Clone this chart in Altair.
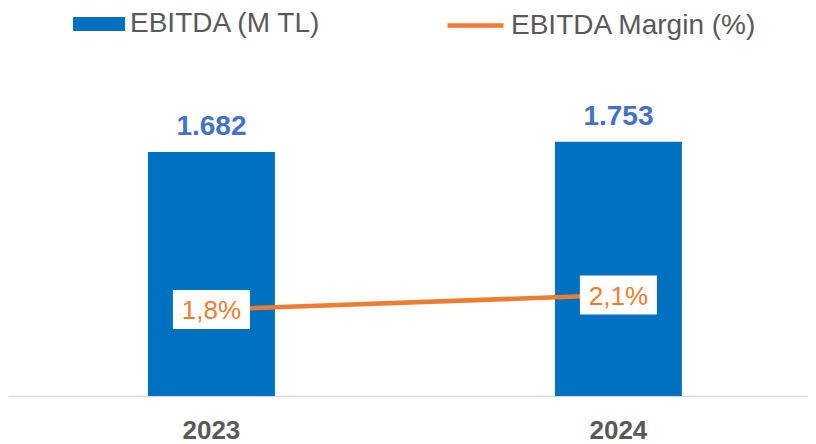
import altair as alt
import pandas as pd

years = ["2023", "2024"]
ebitda = [1682, 1753]
margin = [1.8, 2.1]
ebitda_labels = ["1.682", "1.753"]
margin_labels = ["1,8%", "2,1%"]
series_bar = "EBITDA (M TL)"
series_line = "EBITDA Margin (%)"

FONT = "Liberation Sans"
BLUE = "#0070C0"
BLUE_TXT = "#4472C4"
ORANGE = "#ED7D31"
GRAY = "#595959"

df = pd.DataFrame({
    "year": years,
    "ebitda": ebitda,
    "margin": margin,
    "elab": ebitda_labels,
    "mlab": margin_labels,
    "s1": [series_bar] * len(years),
    "s2": [series_line] * len(years),
})

x = alt.X(
    "year:N",
    scale=alt.Scale(paddingInner=0.688, paddingOuter=0.3268, align=0.526),
    axis=alt.Axis(
        title=None, labelAngle=0, ticks=False, tickSize=0, grid=False,
        domainColor="#D9D9D9", domainWidth=1.5,
        labelFont=FONT, labelFontSize=26, labelFontWeight="bold",
        labelColor=GRAY, labelBaseline="alphabetic", labelPadding=42,
    ),
)
ybar = alt.Y("ebitda:Q", scale=alt.Scale(domain=[0, 2675]), axis=None)
yline = alt.Y("margin:Q", scale=alt.Scale(domain=[0, 8.07]), axis=None)

base = alt.Chart(df)

bars = base.mark_bar().encode(
    x=x,
    y=ybar,
    color=alt.Color(
        "s1:N",
        scale=alt.Scale(domain=[series_bar], range=[BLUE]),
        legend=alt.Legend(
            title=None, orient="none", legendX=65, legendY=-10, padding=0,
            symbolType="M-1,-0.27L1,-0.27L1,0.27L-1,0.27Z", symbolSize=2704,
            symbolStrokeWidth=0, symbolOpacity=1, labelLimit=500,
            labelFont=FONT, labelFontSize=28, labelColor=GRAY, labelOffset=5,
        ),
    ),
)

bar_text = base.mark_text(
    font=FONT, fontSize=28, fontWeight="bold", color=BLUE_TXT,
    baseline="alphabetic", dy=-17,
).encode(x=x, y=ybar, text="elab:N")

line = base.mark_line(strokeWidth=4.5, strokeCap="round").encode(
    x=x,
    y=yline,
    stroke=alt.Stroke(
        "s2:N",
        scale=alt.Scale(domain=[series_line], range=[ORANGE]),
        legend=alt.Legend(
            title=None, orient="none", legendX=437, legendY=-13, padding=0,
            symbolType="stroke", symbolSize=3136, symbolStrokeWidth=4.5,
            labelLimit=500,
            labelFont=FONT, labelFontSize=28, labelColor=GRAY, labelOffset=5,
        ),
    ),
)

boxes = base.mark_point(
    shape="M-1,-0.506L1,-0.506L1,0.506L-1,0.506Z", size=5929,
    filled=True, fill="white", opacity=1, strokeWidth=0,
).encode(x=x, y=yline)

line_text = base.mark_text(
    font=FONT, fontSize=26, color=ORANGE, baseline="alphabetic", dy=9.5,
).encode(x=x, y=yline, text="mlab:N")

chart = (
    alt.layer(bars, bar_text, line, boxes, line_text)
    .resolve_scale(y="independent")
    .properties(
        width=800, height=388,
        autosize=alt.AutoSizeParams(type="none"),
        padding={"left": 0, "top": 0, "right": 0, "bottom": 48},
    )
    .configure_view(stroke=None)
)

chart.save("out.html", embed_options={"renderer": "svg", "actions": False})
